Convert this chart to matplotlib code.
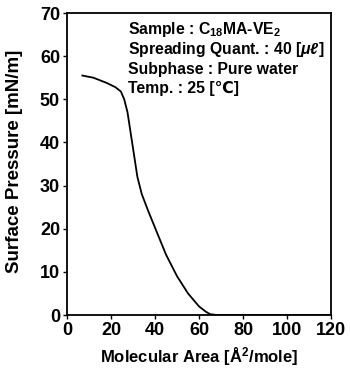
import matplotlib
matplotlib.use("Agg")
import matplotlib.pyplot as plt

area = [7, 12, 18, 22, 24.5, 26, 27.5, 29, 30.5, 32, 34, 37, 41, 45, 50, 55, 60, 63, 65, 68, 80, 100, 120]
pressure = [55.5, 55.0, 53.8, 52.8, 51.8, 50.0, 47.0, 42.0, 37.0, 32.0, 28.0, 24.0, 19.0, 14.0, 9.0, 5.0, 2.0, 0.8, 0.2, 0.0, 0.0, 0.0, 0.0]
xticks = [0, 20, 40, 60, 80, 100, 120]
yticks = [0, 10, 20, 30, 40, 50, 60, 70]
notes = ["Sample : C$_{18}$MA-VE$_2$",
         "Spreading Quant. : 40 [$\\mu\\ell$]",
         "Subphase : Pure water",
         "Temp. : 25 [\u2103]"]

plt.rcParams['font.family'] = ['Liberation Sans', 'DejaVu Sans']
plt.rcParams['font.weight'] = 'bold'
plt.rcParams['mathtext.fontset'] = 'custom'
plt.rcParams['mathtext.rm'] = 'Liberation Sans:bold'
plt.rcParams['mathtext.it'] = 'Liberation Sans:italic:bold'
plt.rcParams['mathtext.bf'] = 'Liberation Sans:bold'

fig = plt.figure(figsize=(3.5, 3.78), dpi=100)
ax = fig.add_axes([67/350, 1-315/378, (331-67)/350, (315-13)/378])
ax.plot(area, pressure, color='black', lw=1.3)
ax.set_xlim(0, 120)
ax.set_ylim(0, 70)
ax.set_xticks(xticks)
ax.set_yticks(yticks)
ax.tick_params(direction='out', length=3, width=1, labelsize=13, pad=2)
for lab in ax.get_xticklabels() + ax.get_yticklabels():
    lab.set_fontweight('bold')
for s in ax.spines.values():
    s.set_linewidth(1.3)
ax.set_xlabel("Molecular Area [\u00c5$^2$/mole]", fontsize=12, fontweight='bold', labelpad=5)
ax.set_ylabel("Surface Pressure [mN/m]", fontsize=13.5, fontweight='bold')
ax.yaxis.set_label_coords(-0.167, 0.51)
for i, t in enumerate(notes):
    ax.text(0.231, 0.944 - i*0.065, t, transform=ax.transAxes, fontsize=11.3,
            fontweight='bold', va='center', ha='left')
fig.savefig("out.png", dpi=100)
